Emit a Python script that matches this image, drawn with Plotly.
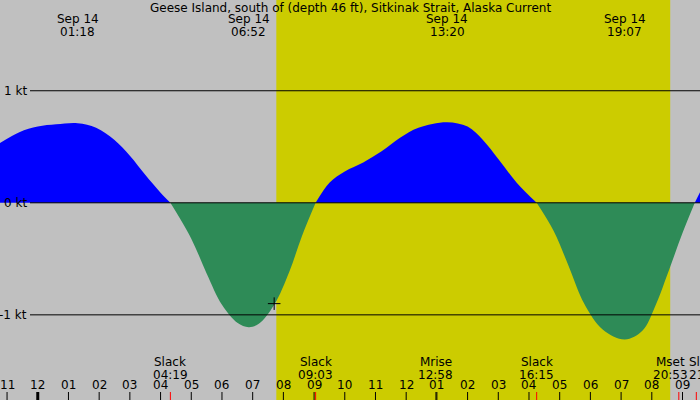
import plotly.graph_objects as go

title = "Geese Island, south of (depth 46 ft), Sitkinak Strait, Alaska Current"
pos1_t = [-1.25, -0.6, 0.0, 0.6, 1.3, 1.9, 2.5, 3.0, 3.5, 4.0, 4.32]
pos1_v = [0.53, 0.63, 0.68, 0.70, 0.71, 0.67, 0.56, 0.42, 0.25, 0.09, 0.0]
neg1_t = [4.32, 5.0, 5.5, 6.0, 6.5, 6.87, 7.2, 7.7, 8.2, 8.6, 9.05]
neg1_v = [0.0, -0.32, -0.63, -0.91, -1.07, -1.11, -1.08, -0.91, -0.61, -0.30, 0.0]
pos2_t = [9.05, 9.5, 10.0, 10.6, 11.2, 11.8, 12.4, 13.33, 14.0, 14.5, 15.0, 15.6, 16.25]
pos2_v = [0.0, 0.18, 0.28, 0.36, 0.46, 0.58, 0.67, 0.72, 0.68, 0.56, 0.39, 0.18, 0.0]
neg2_t = [16.25, 16.8, 17.3, 17.8, 18.4, 19.12, 19.7, 20.1, 20.6, 21.0, 21.4]
neg2_v = [0.0, -0.25, -0.57, -0.90, -1.13, -1.22, -1.14, -0.93, -0.57, -0.27, 0.0]
pos3_t = [21.4, 21.6]
pos3_v = [0.0, 0.11]

extreme_t = [1.3, 6.87, 13.33, 19.12]
extreme_l1 = ["Sep 14"] * 4
extreme_l2 = ["01:18", "06:52", "13:20", "19:07"]
event_t = [4.32, 9.05, 12.97, 16.25, 20.88, 21.45]
event_l1 = ["Slack", "Slack", "Mrise", "Slack", "Mset", "Sl"]
event_l2 = ["04:19", "09:03", "12:58", "16:15", "20:53", "21"]
event_col = ["red", "red", "black", "red", "red", "red"]
hour_t = list(range(-1, 22))
hour_lbl = ["11", "12"] + ["%02d" % h for h in range(1, 13)] + ["%02d" % h for h in range(1, 10)]
day_start, day_end = 7.77, 20.6
kt_levels = [1, 0, -1]
kt_lbl = ["1 kt", "0 kt", "-1 kt"]

X0, X1, Y0, Y1 = -1.23, 21.57, -1.76, 1.81
fig = go.Figure()
for t, v, c in [(pos1_t, pos1_v, "blue"), (neg1_t, neg1_v, "seagreen"),
                (pos2_t, pos2_v, "blue"), (neg2_t, neg2_v, "seagreen"),
                (pos3_t, pos3_v, "blue")]:
    fig.add_trace(go.Scatter(x=t, y=v, mode="lines",
                             line=dict(color=c, width=0, shape="spline", smoothing=1.0),
                             fill="tozeroy", fillcolor=c, hoverinfo="skip"))
fig.add_trace(go.Scatter(x=[7.7], y=[-0.9], mode="markers",
                         marker=dict(symbol="cross-thin", size=9, line=dict(color="black", width=1))))

def py(p):  # pixel from top -> paper
    return 1 - p / 400

def txt(text, x, y, xref="x", xanchor="center"):
    return dict(text=text, x=x, y=py(y), xref=xref, yref="paper", xanchor=xanchor,
                yanchor="middle", showarrow=False)

shapes = [dict(type="rect", xref="x", yref="paper", x0=day_start, x1=day_end, y0=0, y1=1,
               fillcolor="#cccc00", line_width=0, layer="below")]
for k in kt_levels:
    shapes.append(dict(type="line", xref="paper", yref="y", x0=30/700, x1=1, y0=k, y1=k,
                       line=dict(color="black", width=1), layer="above"))
ann = [txt(title, 0.5, 8, xref="paper")]
for k, l in zip(kt_levels, kt_lbl):
    ann.append(dict(text=l, x=29/700, y=k, xref="paper", yref="y", xanchor="right",
                    yanchor="middle", showarrow=False))
for t, a, b in zip(extreme_t, extreme_l1, extreme_l2):
    ann.append(txt(a, t, 19))
    ann.append(txt(b, t, 32))
for i, (t, a, b, c) in enumerate(zip(event_t, event_l1, event_l2, event_col)):
    xa, xx = "center", t
    if i == len(event_t) - 1:
        xa, xx = "left", 21.16
    elif i == len(event_t) - 2:
        xx = 20.6
    ann.append(txt(a, xx, 362, xanchor=xa))
    ann.append(txt(b, xx, 375, xanchor=xa))
    shapes.append(dict(type="line", xref="x", yref="paper", x0=t, x1=t, y0=0, y1=8/400,
                       line=dict(color=c, width=1)))
for t, l in zip(hour_t, hour_lbl):
    ann.append(txt(l, t, 385))
    shapes.append(dict(type="line", xref="x", yref="paper", x0=t, x1=t, y0=0, y1=8/400,
                       line=dict(color="black", width=3 if t == 0 else 1)))

fig.update_layout(width=700, height=400, margin=dict(l=0, r=0, t=0, b=0),
                  paper_bgcolor="#c0c0c0", plot_bgcolor="#c0c0c0", showlegend=False,
                  font=dict(family="DejaVu Sans", size=12, color="black"),
                  xaxis=dict(range=[X0, X1], visible=False),
                  yaxis=dict(range=[Y0, Y1], visible=False),
                  shapes=shapes, annotations=ann)
fig.write_html("out.html", config={"displayModeBar": False})
with open("out.html") as f:
    html = f.read()
html = html.replace("<head>", "<head><style>html,body{margin:0;padding:0;overflow:hidden;}</style>", 1)
with open("out.html", "w") as f:
    f.write(html)
